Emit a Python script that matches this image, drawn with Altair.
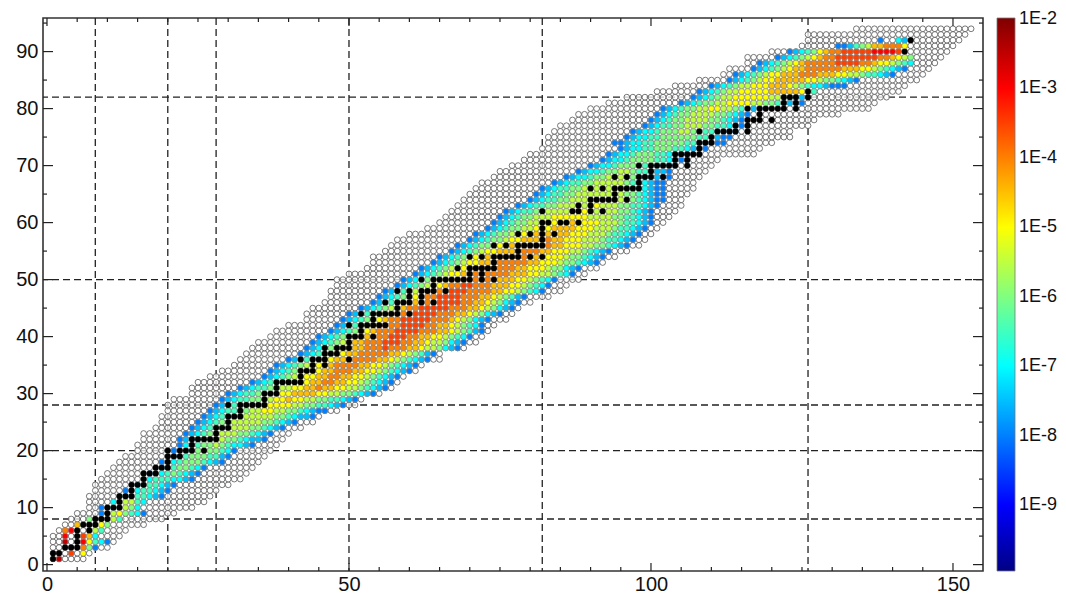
import altair as alt
import pandas as pd

alt.data_transformers.disable_max_rows()

# Gray (open circle) range of N for every Z = 1..94
gray_min = [1,1,1,1,1,2,3,4,5,7,7,7,8,8,9,10,11,12,13,15,15,16,16,18,19,19,20,20,21,24,
            24,25,27,29,31,32,33,34,35,37,38,40,43,43,44,46,47,47,48,48,50,53,54,54,56,57,58,60,63,65,
            66,67,68,69,70,71,72,74,75,77,79,80,82,83,83,84,85,87,88,90,93,96,101,104,108,112,113,116,116,120,
            125,126,126,134]
gray_max = [6,7,10,11,12,13,16,19,21,24,26,27,28,30,32,33,34,35,36,37,38,39,40,42,44,45,48,51,52,55,
            57,58,59,61,62,65,65,69,71,72,73,74,76,77,78,80,83,85,86,88,89,91,92,94,96,98,99,100,101,102,
            103,104,105,105,106,107,107,108,109,110,111,117,118,120,123,123,126,127,131,136,137,139,141,142,144,145,146,147,148,149,
            150,151,152,153]

# First coloured N per Z = 1..92; each row below holds one hex level per cell
color_start = [2,4,6,3,3,3,5,7,9,9,11,13,13,15,17,17,19,19,21,21,22,22,23,24,25,26,27,28,29,30,
               32,34,36,37,38,40,42,43,44,45,47,48,49,50,52,54,55,56,58,59,61,62,64,65,67,68,70,71,73,74,
               75,76,78,80,81,82,84,86,88,90,92,93,95,94,96,97,99,100,101,102,105,107,108,110,113,114,117,118,121,123,
               131,138]
color_rows = [
 "b","9.6","840","b..a6320","a..972","8a...53","74..64","4...53","0.564320","0.2.542",
 "2.5532","2.33210","0.233210","2.33210","23332210","0.2343210","2.344320","0.234443210","1.34443310","0.2.4.44320",
 "02.3445432210","012344554432110","012344555443210","0123445555443210","01234455555443210",
 "0123344555554432110","01233445566554432100","0123344556666554433210","01233445566766554433210","0123344556677776655443210",
 "0123344556677877665543210","012344556677887766543210","01234556677887766543210","012345566778887766543210","012345567788887766543210",
 "012345667788888776543210","01234566778888877654310","01234566778889888776554210","01234567788899988776554210","01234567788899988776654320",
 "01234567888999988877654310","0123456788899998877654320","0123456788999998887654210","01234567889999988877654210","01234567889999988877654210",
 "0123456788999998877654210","0123456788999988877654310","012345677889998888776654320","01234566788998887776654320","01234566778888887776654320",
 "012345667788888877766554320","012345667788888877666544210","0123456677888888776665443210","0123456677788887776665443210","012345667778888776665543210",
 "01234456677778887766655443210","0123445667777877666555433210","0123445566777777666555433210","012344556667777666555433210","012344556666777666555433210",
 "01234455566666655554433210","0123344555566665555443210","012334455555665554433210","01233445555555554432100","0123344555555554432100",
 "012334455555554332100","0123344555554322100","012234455544322100","0122344554332110","012234444332110",
 "012234444332100","01223444332100","012233444332100","0012233444443321100","012233444444332100",
 "012234445544332100","01233445554433210","0123445555443210","0123445555443210","01234455665543210",
 "012344556666554432100","0123455666666554321","01234556666677777643","01234556667776543221000","0123456677777665443210",
 "012345667778887776655433210","01234567788888877766543210","01234567888889999887665432","01234567889999999887654","01234678899999aaaa98",
 "001345778886","0..21",
]
level_log = {c: -8.0 + 0.5 * i for i, c in enumerate("0123456789ab")}

# Black cells, N values per Z
black_rows = {
 1:[1],2:[1,2],3:[3,4,5],4:[5],5:[5],6:[5,7],7:[6,7,8],8:[8,9,10],9:[10],10:[10,11,12],
 11:[12],12:[12,13,14],13:[14],14:[14,15,16],15:[16],16:[16,17,18],17:[18,19,20],18:[20],19:[20,21,22],20:[20,22,23,24,26],
 21:[24],22:[24,25,26,27,28],23:[28],24:[28,29,30],25:[30],26:[30,31,32],27:[32],28:[30,32,33,34,35,36],29:[36],30:[36,37,38],
 31:[38],32:[38,39,40,41,42],33:[42],34:[42,43,44],35:[44,46],36:[42,44,45,46,50],37:[46,47,48],38:[46,48,49,50],39:[50],40:[50,51,52,54],
 41:[52],42:[50,52,53,54,55,56],43:[54],44:[52,54,55,56,57,58,60],45:[58],46:[56,58,59,60,62,64],47:[60,62],48:[58,60,62,63,64,66],49:[64],50:[62,64,65,66,67,68,69,70,72,74],
 51:[70,72],52:[68,70,71,72,73,74],53:[74],54:[70,72,74,75,76,77,78,80,82],55:[78],56:[74,76,78,79,80,81,82],57:[82],58:[78,80,82,84],59:[82],60:[82,83,85,86,88],
 62:[82,87,88,90,92],63:[88,90],64:[90,91,92,93,94,96],65:[94],66:[90,92,94,95,96,97,98],67:[98],68:[94,96,98,99,100,102],69:[100],70:[98,100,101,102,103,104,106],
 71:[104,106],72:[104,105,106,107,108],73:[108],74:[108,109,110],75:[110],76:[108,111,112,113,114,116],77:[114,116],78:[116,117,118,120],79:[118],80:[116,118,119,120,121,122,124],
 81:[122,124],82:[122,123,124,126],83:[126],90:[142],92:[143],
}

v_lines = [8, 20, 28, 50, 82, 126]
h_lines = [8, 20, 28, 50, 82]
x_labels = [0, 50, 100, 150]
y_labels = [0, 10, 20, 30, 40, 50, 60, 70, 80, 90]
x_major = [0, 50, 100, 150]
x_minor = [n for n in range(5, 155, 5) if n % 50]
y_major = y_labels
y_minor = [5, 15, 25, 35, 45, 55, 65, 75, 85, 95]
legend_ticks = [-2, -3, -4, -5, -6, -7, -8, -9]
jet_domain = [-9.95, -9, -7, -5, -3, -1.99]
jet_range = ["#000085", "#0000ff", "#00ffff", "#ffff00", "#ff0000", "#800000"]

gray = pd.DataFrame([{"N": n, "Z": z + 1} for z, (a, b) in enumerate(zip(gray_min, gray_max))
                     for n in range(a, b + 1)])
colored = pd.DataFrame([{"N": s + i, "Z": z + 1, "v": level_log[c]}
                        for z, (s, row) in enumerate(zip(color_start, color_rows))
                        for i, c in enumerate(row) if c != "."])
black = pd.DataFrame([{"N": n, "Z": z} for z, ns in black_rows.items() for n in ns])

W, H = 940, 553
xs = alt.Scale(domain=[-0.66, 154.97], nice=False, zero=False)
ys = alt.Scale(domain=[-1.12, 95.89], nice=False, zero=False)
FONT = "Liberation Sans"
axis_x = alt.Axis(values=x_labels, title=None, grid=False, ticks=False, domain=False,
                  labelFont=FONT, labelFontSize=20, labelColor="#111", labelPadding=3, format="d",
                  labelOverlap=False)
axis_y = alt.Axis(values=y_labels, title=None, grid=False, ticks=False, domain=False,
                  labelFont=FONT, labelFontSize=20, labelColor="#111", labelPadding=5, format="d",
                  labelOverlap=False)
X = alt.X("N:Q", scale=xs, axis=axis_x)
Y = alt.Y("Z:Q", scale=ys, axis=axis_y)

vr = alt.Chart(pd.DataFrame({"N": v_lines})).mark_rule(color="#222", strokeWidth=1.3, strokeDash=[7, 4]).encode(x=X)
hr = alt.Chart(pd.DataFrame({"Z": h_lines})).mark_rule(color="#222", strokeWidth=1.3, strokeDash=[7, 4]).encode(y=Y)

g = alt.Chart(gray).mark_point(shape="circle", filled=True, fill="white", fillOpacity=0.75, stroke="#555",
                               strokeWidth=0.8, size=33, opacity=1).encode(x=X, y=Y)
c = alt.Chart(colored).mark_point(shape="circle", filled=True, stroke="#8a8a8a", strokeWidth=0.6,
                                  size=33, opacity=1).encode(
    x=X, y=Y,
    fill=alt.Fill("v:Q", scale=alt.Scale(domain=jet_domain, range=jet_range, interpolate="rgb"),
                  legend=alt.Legend(orient="none", legendX=954, legendY=0, title=None, values=legend_ticks,
                                    gradientLength=H, gradientThickness=18, gradientStrokeColor="#777",
                                    gradientStrokeWidth=0.8, labelFont=FONT, labelFontSize=18, labelColor="#111",
                                    labelOffset=4, labelOverlap=False,
                                    labelExpr="'1E' + datum.value")))
b = alt.Chart(black).mark_point(shape="circle", filled=True, color="black", size=34, opacity=1).encode(x=X, y=Y)


def xticks(vals, y0, y1):
    return alt.Chart(pd.DataFrame({"N": vals})).mark_rule(color="#222", strokeWidth=1.2).encode(
        x=X, y=alt.value(y0), y2=alt.value(y1))


def yticks(vals, x0, x1):
    return alt.Chart(pd.DataFrame({"Z": vals})).mark_rule(color="#222", strokeWidth=1.2).encode(
        y=Y, x=alt.value(x0), x2=alt.value(x1))


ticks = [xticks(x_major, H, H - 8), xticks(x_minor, H, H - 4), xticks(x_major, 0, 8), xticks(x_minor, 0, 4),
         yticks(y_major, 0, 10), yticks(y_minor, 0, 4), yticks(y_major, W, W - 10), yticks(y_minor, W, W - 4)]

chart = alt.layer(vr, hr, g, c, b, *ticks).properties(
    width=W, height=H,
    padding={"left": 35, "top": 10, "right": 75, "bottom": 22},
    autosize=alt.AutoSizeParams(type="none"),
    background="white",
).configure_view(stroke="#333", strokeWidth=1.6)

chart.save("out.html", embed_options={"renderer": "svg", "actions": False})
